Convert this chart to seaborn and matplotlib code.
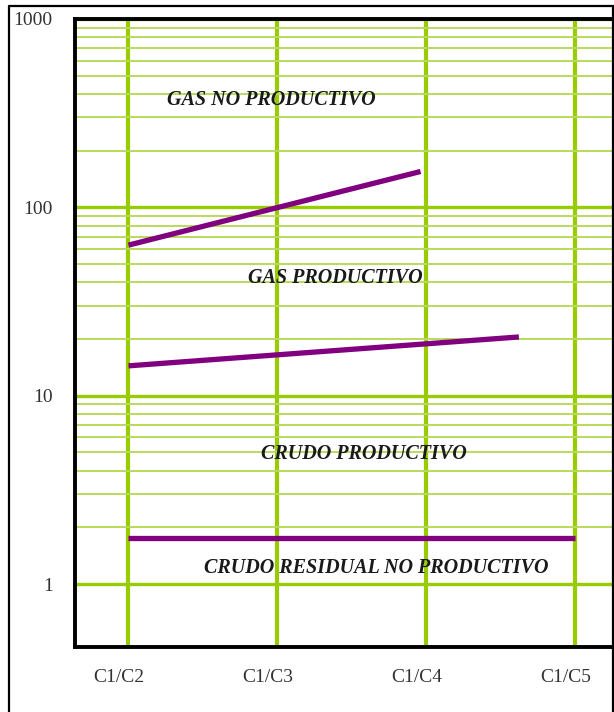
import matplotlib
matplotlib.use("Agg")
import matplotlib.pyplot as plt
import matplotlib.transforms as mtransforms
from matplotlib.lines import Line2D
from matplotlib.ticker import FixedLocator, NullFormatter, FixedFormatter
import numpy as np
import pandas as pd
import seaborn as sns

# Relaciones de gases (categorías del eje X)
categorias = ["C1/C2", "C1/C3", "C1/C4", "C1/C5"]
posiciones = [0, 1, 2, 3]

# Límites entre zonas (posición en X, valor de la relación)
limite_gas_x = [0.0, 1.96]
limite_gas_y = [63.0, 155.0]

limite_crudo_x = [0.0, 2.62]
limite_crudo_y = [14.4, 20.5]

limite_residual_x = [0.0, 3.0]
limite_residual_y = [1.75, 1.75]

# Rótulos de las zonas: (texto, x, y)
zonas = ["GAS NO PRODUCTIVO", "GAS PRODUCTIVO", "CRUDO PRODUCTIVO",
         "CRUDO RESIDUAL NO PRODUCTIVO"]
zonas_x = [0.96, 1.39, 1.58, 1.66]
zonas_y = [372.0, 42.0, 4.9, 1.22]

y_mayores = [1, 10, 100, 1000]
y_etiquetas = ["1", "10", "100", "1000"]

sns.set_style("white")
plt.rcParams["font.family"] = ["Liberation Serif", "DejaVu Serif"]

W, H = 614, 712
fig = plt.figure(figsize=(W / 100, H / 100), dpi=100)
ax = fig.add_axes([75 / W, 1 - 647 / H, (612 - 75) / W, (647 - 19) / H])

verde = "#99cc00"
verde_claro = "#b9da5c"
morado = "#800080"

df = pd.concat([
    pd.DataFrame({"x": limite_gas_x, "y": limite_gas_y, "limite": "gas"}),
    pd.DataFrame({"x": limite_crudo_x, "y": limite_crudo_y, "limite": "crudo"}),
    pd.DataFrame({"x": limite_residual_x, "y": limite_residual_y, "limite": "residual"}),
])
sns.lineplot(data=df, x="x", y="y", units="limite", estimator=None,
             color=morado, linewidth=3.8, solid_capstyle="butt",
             legend=False, ax=ax, zorder=5)

ax.set_yscale("log")
ax.set_ylim(0.463, 1000)
ax.set_xlim(-0.359, 3.245)

ax.yaxis.set_major_locator(FixedLocator(y_mayores))
ax.yaxis.set_major_formatter(FixedFormatter(y_etiquetas))
menores = [k * 10 ** d for d in range(3) for k in range(2, 10)]
ax.yaxis.set_minor_locator(FixedLocator(menores))
ax.yaxis.set_minor_formatter(NullFormatter())

ax.set_xticks(posiciones)
ax.set_xticklabels(categorias)

ax.set_xlabel("")
ax.set_ylabel("")

ax.set_axisbelow(True)
ax.grid(axis="x", which="major", color=verde, linewidth=3.0)
ax.grid(axis="y", which="major", color=verde, linewidth=2.4)
ax.grid(axis="y", which="minor", color=verde_claro, linewidth=1.4)

ax.tick_params(axis="both", which="both", length=0)
ax.tick_params(axis="y", pad=16, labelsize=14, labelcolor="#333333")
ax.tick_params(axis="x", pad=16, labelsize=14, labelcolor="#333333")

desplazamiento = mtransforms.ScaledTranslation(-10 / 100, 0, fig.dpi_scale_trans)
for lbl in ax.get_xticklabels():
    lbl.set_transform(lbl.get_transform() + desplazamiento)

for lado in ["left", "top", "bottom"]:
    ax.spines[lado].set_visible(True)
    ax.spines[lado].set_color("black")
    ax.spines[lado].set_linewidth(2.8)
ax.spines["right"].set_visible(False)

for texto, tx, ty in zip(zonas, zonas_x, zonas_y):
    ax.text(tx, ty, texto, ha="center", va="center", fontsize=14.5,
            fontweight="bold", fontstyle="italic", color="#1a1a1a", zorder=6)

# Marco exterior de la figura
marco = dict(color="black", linewidth=1.6, transform=None)
fig.add_artist(Line2D([8.5, 8.5], [0, H - 6], **marco))
fig.add_artist(Line2D([8.5, W], [H - 6, H - 6], **marco))
fig.add_artist(Line2D([W - 1.5, W - 1.5], [0, H - 6], **marco))

fig.savefig("out.png", dpi=100)
